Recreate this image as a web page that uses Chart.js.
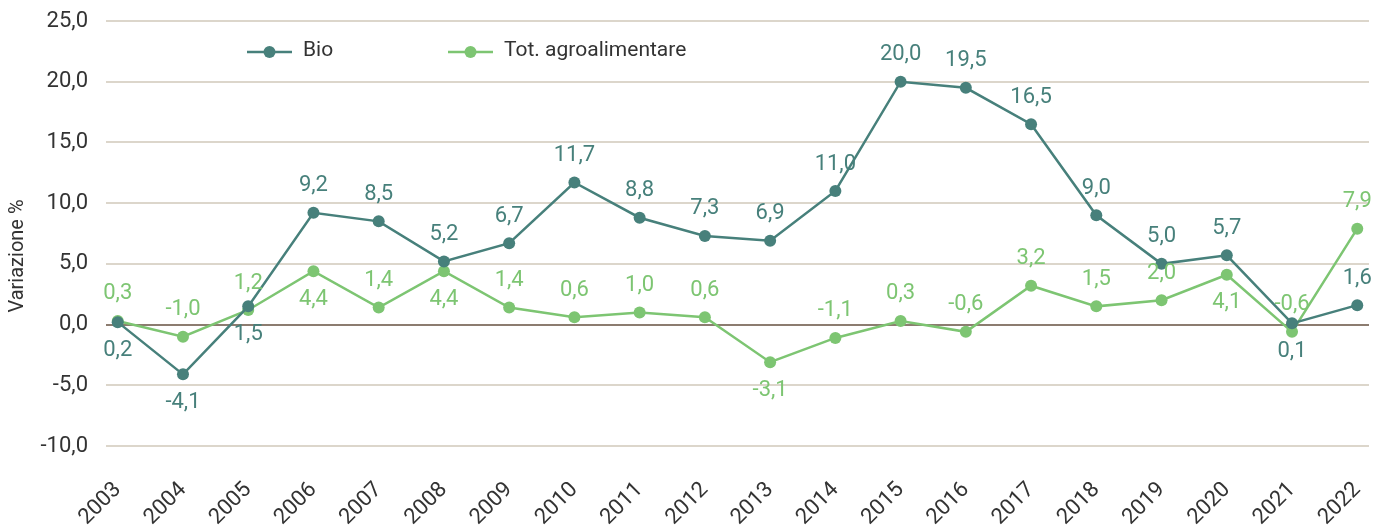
<!DOCTYPE html>
<html>
<head>
<meta charset="utf-8">
<script src="https://cdn.jsdelivr.net/npm/chart.js@4"></script>
<style>
  html, body { margin: 0; padding: 0; background: #ffffff; }
  #wrap { width: 1389px; height: 531px; position: relative; }
</style>
</head>
<body>
<div id="wrap"><canvas id="chart"></canvas></div>
<script>
// Annual change (%) of organic vs. total agri-food values
const years = [2003, 2004, 2005, 2006, 2007, 2008, 2009, 2010, 2011, 2012,
               2013, 2014, 2015, 2016, 2017, 2018, 2019, 2020, 2021, 2022];
const bio = [0.2, -4.1, 1.5, 9.2, 8.5, 5.2, 6.7, 11.7, 8.8, 7.3,
             6.9, 11.0, 20.0, 19.5, 16.5, 9.0, 5.0, 5.7, 0.1, 1.6];
const totAgro = [0.3, -1.0, 1.2, 4.4, 1.4, 4.4, 1.4, 0.6, 1.0, 0.6,
                 -3.1, -1.1, 0.3, -0.6, 3.2, 1.5, 2.0, 4.1, -0.6, 7.9];
const yTickValues = [-10, -5, 0, 5, 10, 15, 20, 25];
const seriesNames = ['Bio', 'Tot. agroalimentare'];

// where each value label sits relative to its point: 'a' above, 'b' below
const bioLabelSide = ['b','b','b','a','a','a','a','a','a','a',
                      'a','a','a','a','a','a','a','a','b','a'];
const totLabelSide = ['a','a','a','b','a','b','a','a','a','a',
                      'b','a','a','a','a','a','a','b','a','a'];

const TEAL = '#47807b';
const GREEN = '#7dc572';
const TEXT = '#333333';
const FONT = 'Roboto, "Noto Sans", sans-serif';

const fmt = v => v.toFixed(1).replace('.', ',');

const valueLabels = {
  id: 'valueLabels',
  afterDatasetsDraw(chart) {
    const ctx = chart.ctx;
    const sides = [bioLabelSide, totLabelSide];
    ctx.save();
    ctx.font = '22px ' + FONT;
    ctx.textAlign = 'center';
    ctx.textBaseline = 'middle';
    chart.data.datasets.forEach((ds, i) => {
      const meta = chart.getDatasetMeta(i);
      ctx.fillStyle = ds.borderColor;
      meta.data.forEach((pt, j) => {
        const dy = sides[i][j] === 'a' ? -27 : 28;
        ctx.fillText(fmt(ds.data[j].y), pt.x, pt.y + dy);
      });
    });
    ctx.restore();
  }
};

const legendAndTitle = {
  id: 'legendAndTitle',
  afterDraw(chart) {
    const ctx = chart.ctx;
    const area = chart.chartArea;
    ctx.save();
    // legend
    const items = [
      { x: area.left + 141, color: TEAL, text: seriesNames[0] },
      { x: area.left + 342, color: GREEN, text: seriesNames[1] }
    ];
    const ly = area.top + 31;
    ctx.font = '21px ' + FONT;
    ctx.textBaseline = 'middle';
    ctx.textAlign = 'left';
    items.forEach(it => {
      ctx.strokeStyle = it.color;
      ctx.lineWidth = 2.5;
      ctx.beginPath();
      ctx.moveTo(it.x, ly);
      ctx.lineTo(it.x + 45, ly);
      ctx.stroke();
      ctx.fillStyle = it.color;
      ctx.beginPath();
      ctx.arc(it.x + 22.5, ly, 6, 0, Math.PI * 2);
      ctx.fill();
      ctx.fillStyle = TEXT;
      ctx.fillText(it.text, it.x + 56, ly - 1);
    });
    // y axis title
    ctx.translate(18, 256);
    ctx.rotate(-Math.PI / 2);
    ctx.textAlign = 'center';
    ctx.font = '20px ' + FONT;
    ctx.fillStyle = TEXT;
    ctx.fillText('Variazione %', 0, 0);
    ctx.restore();
  }
};

new Chart(document.getElementById('chart'), {
  type: 'line',
  data: {
    datasets: [
      {
        label: seriesNames[0],
        data: years.map((y, i) => ({ x: y, y: bio[i] })),
        borderColor: TEAL,
        backgroundColor: TEAL,
        borderWidth: 2.5,
        pointRadius: 6,
        pointHoverRadius: 6,
        pointBorderWidth: 0,
        tension: 0
      },
      {
        label: seriesNames[1],
        data: years.map((y, i) => ({ x: y, y: totAgro[i] })),
        borderColor: GREEN,
        backgroundColor: GREEN,
        borderWidth: 2.5,
        pointRadius: 6,
        pointHoverRadius: 6,
        pointBorderWidth: 0,
        tension: 0
      }
    ]
  },
  options: {
    responsive: true,
    maintainAspectRatio: false,
    animation: false,
    events: [],
    layout: { padding: { top: 21, right: 20, left: 0, bottom: 0 } },
    plugins: {
      legend: { display: false },
      tooltip: { enabled: false }
    },
    scales: {
      x: {
        type: 'linear',
        min: years[0] - 0.18,
        max: years[years.length - 1] + 0.18,
        afterBuildTicks(scale) {
          scale.ticks = years.map(v => ({ value: v }));
        },
        afterFit(scale) {
          scale.height = 85;
          scale.paddingLeft = 0;
          scale.paddingRight = 0;
        },
        grid: { display: false, drawTicks: false },
        border: { display: false },
        ticks: {
          autoSkip: false,
          maxRotation: 45,
          minRotation: 45,
          padding: 31,
          color: TEXT,
          font: { family: FONT, size: 22 },
          callback: v => String(v)
        }
      },
      y: {
        min: yTickValues[0],
        max: yTickValues[yTickValues.length - 1],
        afterBuildTicks(scale) {
          scale.ticks = yTickValues.map(v => ({ value: v }));
        },
        afterFit(scale) {
          scale.width = 106;
          scale.paddingTop = 0;
          scale.paddingBottom = 0;
        },
        grid: {
          drawTicks: false,
          lineWidth: 2,
          color: c => (c.tick && c.tick.value === 0) ? '#8c7c70' : '#dcd6cb'
        },
        border: { display: false },
        ticks: {
          padding: 18,
          color: TEXT,
          font: { family: FONT, size: 22 },
          callback: v => fmt(v)
        }
      }
    }
  },
  plugins: [valueLabels, legendAndTitle]
});
</script>
</body>
</html>
